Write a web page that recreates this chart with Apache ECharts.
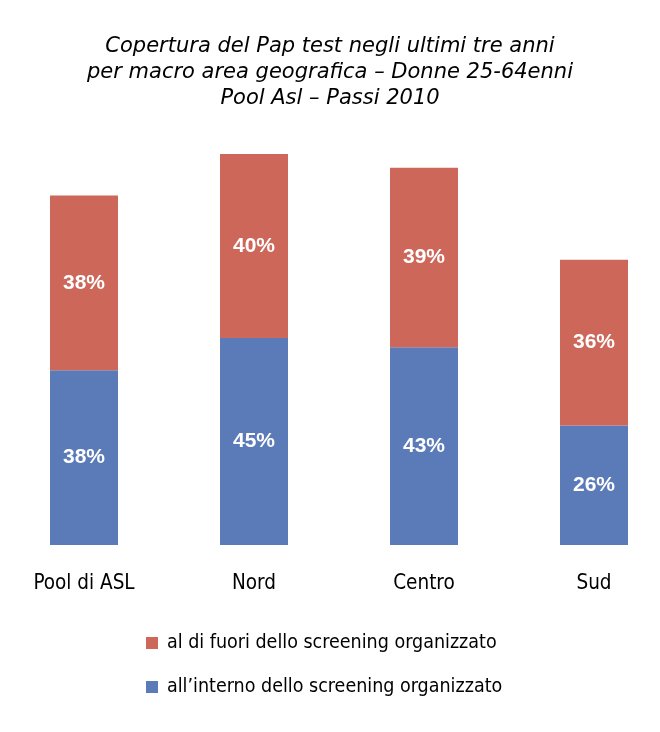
<!DOCTYPE html>
<html>
<head>
<meta charset="utf-8">
<script src="https://cdn.jsdelivr.net/npm/echarts@6/dist/echarts.min.js"></script>
<style>
html, body { margin: 0; padding: 0; background: #fff; }
#chart { width: 660px; height: 732px; }
</style>
</head>
<body>
<div id="chart"></div>
<script>
/* dati del grafico */
const areas = ["Pool di ASL", "Nord", "Centro", "Sud"];
const interno = [38, 45, 43, 26];
const fuori = [38, 40, 39, 36];
const nomeInterno = "all\u2019interno dello screening organizzato";
const nomeFuori = "al di fuori dello screening organizzato";

const narrowFont = "DejaVu Sans Condensed, Liberation Sans";
const chart = echarts.init(document.getElementById("chart"));
const labelStyle = {
	show: true,
	position: "inside",
	color: "#ffffff",
	fontFamily: "Liberation Sans",
	fontWeight: "bold",
	fontSize: 21,
	formatter: (p) => `${p.value}%`,
};
chart.setOption({
	animation: false,
	title: {
		text: "Copertura del Pap test negli ultimi tre anni\nper macro area geografica \u2013 Donne 25-64enni\nPool Asl \u2013 Passi 2010",
		left: "center",
		top: 29,
		textStyle: {
			fontFamily: "DejaVu Sans",
			fontStyle: "italic",
			fontWeight: "normal",
			fontSize: 21,
			lineHeight: 26,
			color: "#000",
		},
	},
	legend: {
		orient: "vertical",
		left: 141,
		top: 628,
		itemWidth: 12,
		itemHeight: 12,
		itemGap: 24,
		icon: "rect",
		data: [nomeFuori, nomeInterno],
		textStyle: {
			fontFamily: narrowFont,
			fontSize: 19.5,
			color: "#000",
			padding: [0, 0, 0, 4],
		},
	},
	grid: {
		left: -1,
		width: 680,
		top: 85,
		bottom: 187,
		outerBoundsMode: "none",
	},
	xAxis: {
		type: "category",
		data: areas,
		axisLine: { show: false },
		axisTick: { show: false },
		axisLabel: {
			margin: 28,
			color: "#000",
			fontFamily: narrowFont,
			fontSize: 20.5,
		},
	},
	yAxis: {
		type: "value",
		min: 0,
		max: 100,
		show: false,
		splitLine: { show: false },
	},
	series: [
		{
			name: nomeInterno,
			type: "bar",
			stack: "totale",
			barWidth: 68,
			itemStyle: { color: "#5b7bb8" },
			label: labelStyle,
			data: interno,
		},
		{
			name: nomeFuori,
			type: "bar",
			stack: "totale",
			barWidth: 68,
			itemStyle: { color: "#cc675a" },
			label: labelStyle,
			data: fuori,
		},
	],
});
</script>
</body>
</html>
